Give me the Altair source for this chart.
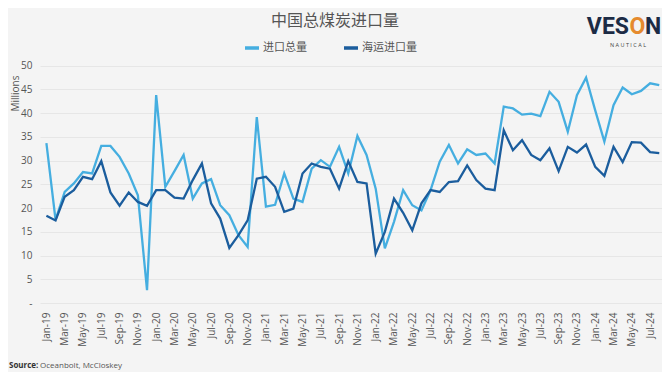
import json
import altair as alt
import pandas as pd

# ---------------- data ----------------
mon_abbr = ["Jan", "Feb", "Mar", "Apr", "May", "Jun", "Jul", "Aug", "Sep", "Oct", "Nov", "Dec"]
months = [f"{mon_abbr[i % 12]}-{19 + i // 12}" for i in range(68)]  # Jan-19 .. Aug-24

total_imports = [
    33.7, 17.5, 23.4, 25.2, 27.6, 27.3, 33.1, 33.1, 30.8, 27.3, 22.7, 2.7,
    43.8, 24.5, 27.8, 31.2, 22.0, 25.2, 26.1, 20.6, 18.5, 14.3, 11.8, 39.2,
    20.3, 20.7, 27.3, 22.0, 21.3, 28.3, 30.1, 28.7, 32.9, 27.3, 35.2, 31.2,
    24.1, 11.5, 17.1, 23.8, 20.6, 19.5, 23.8, 29.8, 33.3, 29.4, 32.4, 31.2,
    31.5, 29.4, 41.4, 41.0, 39.7, 39.9, 39.4, 44.5, 42.4, 36.1, 43.8, 47.5,
    40.6, 34.0, 41.7, 45.4, 44.0, 44.7, 46.3, 45.9,
]
seaborne_imports = [
    18.4, 17.4, 22.4, 23.8, 26.6, 26.1, 29.9, 23.3, 20.5, 23.3, 21.3, 20.5,
    23.8, 23.8, 22.2, 22.0, 25.9, 29.4, 21.0, 17.8, 11.6, 14.3, 17.4, 26.2,
    26.6, 24.5, 19.2, 19.9, 27.3, 29.4, 28.7, 28.3, 24.1, 29.9, 25.5, 25.2,
    10.4, 15.0, 22.0, 19.0, 15.3, 21.0, 23.8, 23.4, 25.5, 25.7, 29.0, 25.9,
    24.1, 23.8, 36.4, 32.2, 34.3, 31.2, 30.1, 32.6, 27.8, 32.9, 31.7, 33.4,
    28.7, 26.8, 32.9, 29.7, 33.9, 33.8, 31.8, 31.6,
]
series_names = ["进口总量", "海运进口量"]
series_colors = ["#45aee0", "#1b5d9d"]
x_tick_positions = list(range(0, 67, 2))          # Jan-19, Mar-19 ... Jul-24
y_ticks = list(range(0, 51, 5))

title_text = "中国总煤炭进口量"
y_title = "Millions"
source_bold = "Source:"
source_rest = "Oceanbolt, McCloskey"

# ---------------- table ----------------
rows = []
for s, vals in zip(series_names, [total_imports, seaborne_imports]):
    for i, v in enumerate(vals):
        rows.append({"idx": i, "month": months[i], "series": s, "value": v})
df = pd.DataFrame(rows)

PL, PT = 32, 53          # padding -> plot origin at page (40, 61)
W, H = 622, 242

label_expr = json.dumps(months) + "[datum.value]"

lines = alt.Chart(df).mark_line(strokeWidth=2.3).encode(
    x=alt.X("idx:Q",
            scale=alt.Scale(domain=[-0.7, 67.3], nice=False, zero=False),
            axis=alt.Axis(values=x_tick_positions, labelExpr=label_expr, labelAngle=-90,
                          grid=False, domain=False, ticks=False, labelPadding=9,
                          labelFontSize=10, title=None)),
    y=alt.Y("value:Q",
            scale=alt.Scale(domain=[0, 51], nice=False),
            axis=alt.Axis(values=y_ticks,
                          labelExpr="datum.value == 0 ? '-' : datum.label",
                          domain=False, ticks=False, labelPadding=8, labelFontSize=10,
                          gridColor="#e6e6e6", gridWidth=1,
                          title=y_title, titleAngle=-90, titleX=-25, titleY=32,
                          titleAlign="center", titleBaseline="middle",
                          titleFontSize=10, titleFontWeight="normal")),
    color=alt.Color("series:N",
                    scale=alt.Scale(domain=series_names, range=series_colors),
                    sort=series_names,
                    legend=alt.Legend(orient="none", legendX=203, legendY=-22,
                                      direction="horizontal", title=None,
                                      symbolType="stroke", symbolStrokeWidth=3.5,
                                      symbolSize=196, labelFontSize=11,
                                      labelFont="Noto Sans CJK SC", labelColor="#555555",
                                      labelOffset=2, columnPadding=30)),
)


def txt(text, x, y, **kw):
    return alt.Chart(pd.DataFrame({"t": [text]})).mark_text(**kw).encode(
        x=alt.value(x), y=alt.value(y), text="t:N")


ox, oy = 40, 61  # page coords of plot origin
title = txt(title_text, 335 - ox, 21 - oy, fontSize=16, font="Noto Sans CJK SC",
            color="#555555", align="center", baseline="middle")
src1 = txt(source_bold, 9 - ox, 366 - oy, fontSize=8, fontWeight="bold", font="Open Sans",
           color="#333333", align="left", baseline="middle")
src2 = txt(source_rest, 40 - ox, 366 - oy, fontSize=8, font="Open Sans",
           color="#555555", align="left", baseline="middle")
logo_font = "Roboto"
logo1 = txt("VES", 629 - ox, 34 - oy, fontSize=23, fontWeight="bold", font=logo_font,
            color="#1c2b45", align="right", baseline="alphabetic")
logo2 = txt("O", 637.5 - ox, 34 - oy, fontSize=23, fontWeight="bold", font=logo_font,
            color="#e58a2e", align="center", baseline="alphabetic")
logo3 = txt("N", 645 - ox, 34 - oy, fontSize=23, fontWeight="bold", font=logo_font,
            color="#1c2b45", align="left", baseline="alphabetic")
logo4 = txt("N A U T I C A L", 628 - ox, 45 - oy, fontSize=5.5, font="Open Sans",
            color="#444444", align="center", baseline="middle")

chart = alt.layer(lines, title, src1, src2, logo1, logo2, logo3, logo4).properties(
    width=W, height=H,
    autosize=alt.AutoSizeParams(type="none"),
    padding={"left": PL, "top": PT, "right": 0, "bottom": 364 - PT - H},
    background="#f4f4f4",
).configure_view(stroke=None).configure_axis(
    labelFont="Open Sans", labelColor="#555555", titleFont="Open Sans", titleColor="#555555"
)

chart.save("out.html", embed_options={"renderer": "svg", "actions": False})
